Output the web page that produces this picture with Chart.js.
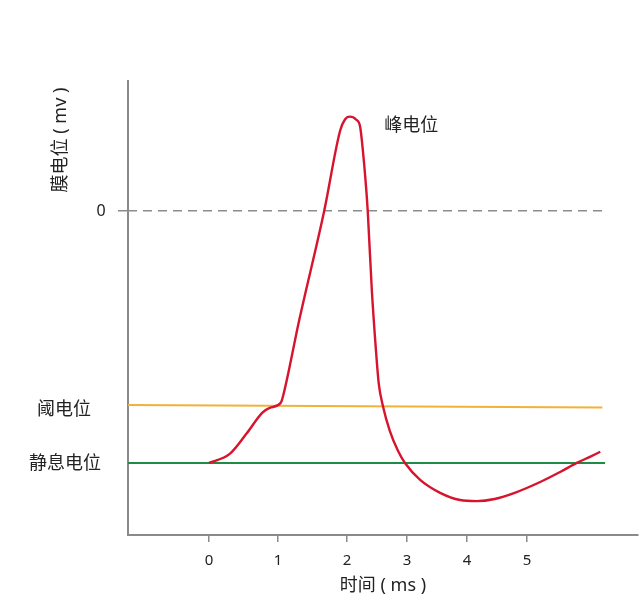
<!DOCTYPE html>
<html><head><meta charset="utf-8">
<script src="https://cdn.jsdelivr.net/npm/chart.js@4.4.1/dist/chart.umd.min.js"></script>
<style>html,body{margin:0;padding:0;background:#fff;}canvas{display:block;}</style>
</head><body>
<canvas id="c" width="640" height="606"></canvas>
<script>
// Action potential curve (x in the figure's time units, y in mV)
const timeMs = [0, 0.30, 0.55, 0.77, 0.88, 1.04, 1.10, 1.30, 1.67, 1.90, 1.97, 2.04, 2.13, 2.19, 2.23, 2.28, 2.30, 2.36, 2.42, 2.46, 2.52, 2.62, 2.74, 2.84, 3.06, 3.35, 3.64, 3.88, 4.14, 4.43, 4.80, 5.09, 5.33, 5.52, 5.67];
const membraneMv = [-70, -67.5, -61.7, -56.1, -54.7, -53.3, -49.3, -31, 0, 22.2, 25.3, 26.1, 25.3, 23.3, 16.7, 5.6, 0, -22.2, -38.9, -48, -54.2, -61.1, -66.7, -70, -74.7, -78.3, -80.3, -80.6, -80, -78.3, -75.3, -72.5, -70, -68.3, -66.9];

// Axis ticks (tick positions as drawn in the figure)
const xTickValues = [0, 1, 2, 2.87, 3.74, 4.61];
const xTickLabels = ['0', '1', '2', '3', '4', '5'];
const yTickValues = [0];
const yLabelValues = [0, -55, -70];
const yLabelTexts = ['0', '阈电位', '静息电位'];

// Reference lines
const zeroLineX = [-1.174, 5.70];
const zeroLineY = [0, 0];
const thresholdX = [-1.174, 5.70];
const thresholdY = [-53.9, -54.6];
const restingX = [-1.174, 5.74];
const restingY = [-70, -70];

// Annotation
const peakText = '峰电位';
const peakAt = [2.93, 23.6];

const xRange = [-1.174, 6.217];
const yRange = [-90, 36];

const FONT = "'Noto Sans', 'Noto Sans CJK SC', sans-serif";
const AXIS = '#8a8a8a';
const TEXT = '#222222';

const toXY = (xs, ys) => xs.map((x, i) => ({x: x, y: ys[i]}));

const textPlugin = {
  id: 'texts',
  afterDraw(chart) {
    const ctx = chart.ctx;
    const ys = chart.scales.y, xs = chart.scales.x;
    ctx.save();
    ctx.fillStyle = TEXT;
    ctx.textBaseline = 'middle';
    ctx.textAlign = 'center';
    const labelCenterX = [101, 64, 65];
    yLabelValues.forEach((v, i) => {
      ctx.font = (i === 0 ? '16px ' : '18px ') + FONT;
      ctx.fillText(yLabelTexts[i], labelCenterX[i], ys.getPixelForValue(v) + 1);
    });
    ctx.font = '18px ' + FONT;
    ctx.fillText(peakText, xs.getPixelForValue(peakAt[0]), ys.getPixelForValue(peakAt[1]));
    ctx.translate(61, 140);
    ctx.rotate(-Math.PI / 2);
    ctx.fillText('膜电位 ( mv )', 0, 0);
    ctx.restore();
  }
};

new Chart(document.getElementById('c'), {
  type: 'line',
  data: {
    datasets: [
      {data: toXY(timeMs, membraneMv), borderColor: '#d6142e', borderWidth: 2.4, pointRadius: 0, cubicInterpolationMode: 'monotone', fill: false},
      {data: toXY(zeroLineX, zeroLineY), borderColor: '#8c8c8c', borderWidth: 1.6, borderDash: [9, 6], pointRadius: 0, fill: false},
      {data: toXY(thresholdX, thresholdY), borderColor: '#f2b23a', borderWidth: 2, pointRadius: 0, fill: false},
      {data: toXY(restingX, restingY), borderColor: '#1f8c46', borderWidth: 2, pointRadius: 0, fill: false}
    ]
  },
  options: {
    responsive: false,
    animation: false,
    events: [],
    layout: {padding: {top: 81, right: 2, left: 0, bottom: 9}},
    plugins: {legend: {display: false}, tooltip: {enabled: false}, title: {display: false}},
    scales: {
      x: {
        type: 'linear', min: xRange[0], max: xRange[1],
        afterBuildTicks: s => { s.ticks = xTickValues.map(v => ({value: v})); },
        afterFit: s => { s.height = 62; },
        ticks: {autoSkip: false, maxRotation: 0, padding: 10, color: TEXT, font: {family: FONT, size: 15},
          callback: (v, i) => xTickLabels[i]},
        grid: {drawOnChartArea: false, drawTicks: true, tickLength: 7, color: AXIS, lineWidth: 1.5},
        border: {display: true, color: AXIS, width: 2},
        title: {display: true, text: '时间 ( ms )', color: TEXT, font: {family: FONT, size: 18}, padding: {top: 0, bottom: 0}}
      },
      y: {
        type: 'linear', min: yRange[0], max: yRange[1],
        afterBuildTicks: s => { s.ticks = yTickValues.map(v => ({value: v})); },
        afterFit: s => { s.width = 128; },
        ticks: {display: false},
        grid: {drawOnChartArea: false, drawTicks: true, tickLength: 10, color: AXIS, lineWidth: 1.5},
        border: {display: true, color: AXIS, width: 2}
      }
    }
  },
  plugins: [textPlugin]
});
</script>
</body></html>
